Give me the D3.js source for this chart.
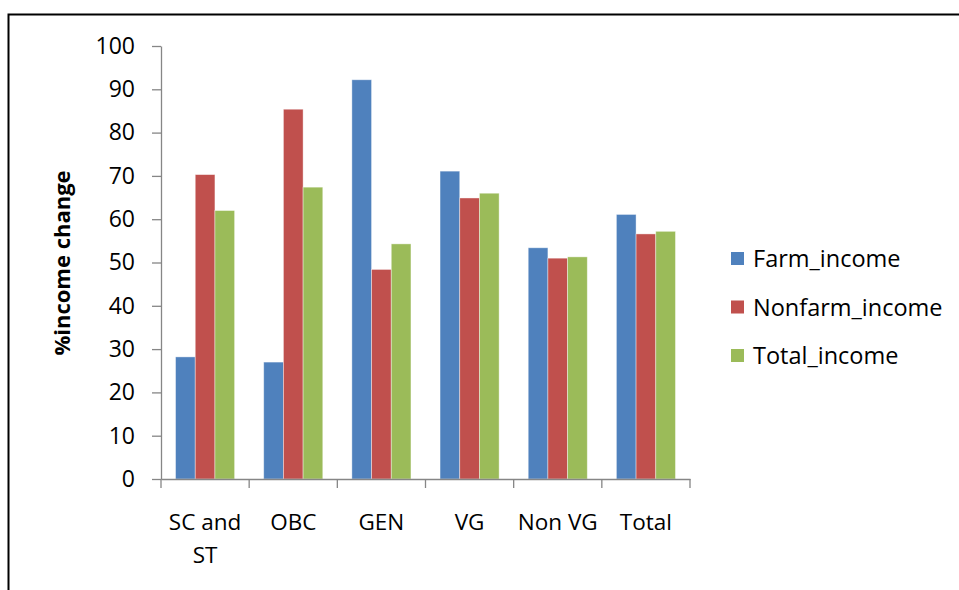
<!DOCTYPE html>
<html>
<head>
<meta charset="utf-8">
<script src="https://cdn.jsdelivr.net/npm/d3@7"></script>
<style>
  body { margin: 0; background: #fff; }
  svg { display: block; }
  text { font-family: "Open Sans", Lato, sans-serif; fill: #000; }
</style>
</head>
<body>
<svg width="959" height="590"></svg>
<script>
// Chart data
var categories = ["SC and ST", "OBC", "GEN", "VG", "Non VG", "Total"];
var seriesNames = ["Farm_income", "Nonfarm_income", "Total_income"];
var farmIncome = [28.2, 27.0, 92.2, 71.1, 53.4, 61.1];
var nonfarmIncome = [70.3, 85.4, 48.4, 64.9, 51.0, 56.6];
var totalIncome = [62.0, 67.4, 54.3, 66.0, 51.3, 57.2];
var yTicks = [0, 10, 20, 30, 40, 50, 60, 70, 80, 90, 100];
var seriesColors = ["#4F81BD", "#C0504D", "#9BBB59"];

var seriesValues = [farmIncome, nonfarmIncome, totalIncome];

var svg = d3.select("svg");

// Outer frame (only top and left edges fall inside the window)
svg.append("rect")
  .attr("x", 8.5)
  .attr("y", 14.5)
  .attr("width", 1000)
  .attr("height", 1000)
  .attr("fill", "none")
  .attr("stroke", "#000")
  .attr("stroke-width", 2);

var plot = { left: 161, right: 690, top: 46, bottom: 479 };

// Scales
var x0 = d3.scaleBand()
  .domain(categories)
  .range([plot.left, plot.right])
  .padding(0);

var step = x0.bandwidth();
var x1 = d3.scaleBand()
  .domain(seriesNames)
  .range([step * 0.165, step * 0.835])
  .padding(0);

var y = d3.scaleLinear()
  .domain([0, 100])
  .range([plot.bottom, plot.top]);

// Bars
var groups = svg.append("g")
  .selectAll("g")
  .data(categories)
  .enter().append("g")
  .attr("transform", function(d) { return "translate(" + x0(d) + ",0)"; });

groups.selectAll("rect")
  .data(function(d, i) {
    return seriesNames.map(function(s, j) { return { series: s, value: seriesValues[j][i], idx: j }; });
  })
  .enter().append("rect")
  .attr("x", function(d) { return x1(d.series); })
  .attr("y", function(d) { return y(d.value); })
  .attr("width", x1.bandwidth())
  .attr("height", function(d) { return y(0) - y(d.value); })
  .attr("fill", function(d) { return seriesColors[d.idx]; })
  .attr("stroke", "rgba(255,255,255,0.5)")
  .attr("stroke-width", 0.8);

// Y axis
var yAxis = svg.append("g")
  .attr("transform", "translate(" + plot.left + ",0)")
  .call(d3.axisLeft(y).tickValues(yTicks).tickSize(9).tickPadding(17).tickSizeOuter(0));

yAxis.select(".domain").attr("stroke", "#868686").attr("stroke-width", 1.3);
yAxis.selectAll(".tick line").attr("stroke", "#868686").attr("stroke-width", 1.3);
yAxis.selectAll(".tick text")
  .attr("font-size", 23)
  .attr("font-family", "'Open Sans', sans-serif")
  .attr("fill", "#000");

// X axis
var xAxis = svg.append("g")
  .attr("transform", "translate(0," + plot.bottom + ")")
  .call(d3.axisBottom(x0).tickSize(0).tickFormat(""));

xAxis.select(".domain").attr("stroke", "#868686").attr("stroke-width", 1.3);

// Category separators on the x axis
var sepPositions = categories.map(function(c) { return x0(c); }).concat([plot.right]);
xAxis.selectAll(".sep")
  .data(sepPositions)
  .enter().append("line")
  .attr("class", "sep")
  .attr("x1", function(d) { return d; })
  .attr("x2", function(d) { return d; })
  .attr("y1", 0)
  .attr("y2", 9)
  .attr("stroke", "#868686")
  .attr("stroke-width", 1.3);

// Category labels (wrapped where needed)
var labelLines = { "SC and ST": ["SC and", "ST"] };
var xLabels = svg.append("g")
  .selectAll("text")
  .data(categories)
  .enter().append("text")
  .attr("x", function(d) { return x0(d) + step / 2; })
  .attr("y", 530)
  .attr("text-anchor", "middle")
  .attr("font-size", 22.5);

xLabels.each(function(d) {
  var lines = labelLines[d] || [d];
  var t = d3.select(this);
  lines.forEach(function(line, i) {
    t.append("tspan")
      .attr("x", x0(d) + step / 2)
      .attr("dy", i === 0 ? 0 : 33)
      .text(line);
  });
});

// Y axis title
svg.append("text")
  .attr("transform", "translate(70,263) rotate(-90)")
  .attr("text-anchor", "middle")
  .attr("font-size", 22)
  .attr("font-weight", "bold")
  .text("%income change");

// Legend
var legend = svg.append("g")
  .selectAll("g")
  .data(seriesNames)
  .enter().append("g")
  .attr("transform", function(d, i) { return "translate(731," + (252 + i * 48.5) + ")"; });

legend.append("rect")
  .attr("width", 13)
  .attr("height", 13)
  .attr("fill", function(d, i) { return seriesColors[i]; });

legend.append("text")
  .attr("x", 22)
  .attr("y", 15)
  .attr("font-size", 23.5)
  .text(function(d) { return d; });
</script>
</body>
</html>
